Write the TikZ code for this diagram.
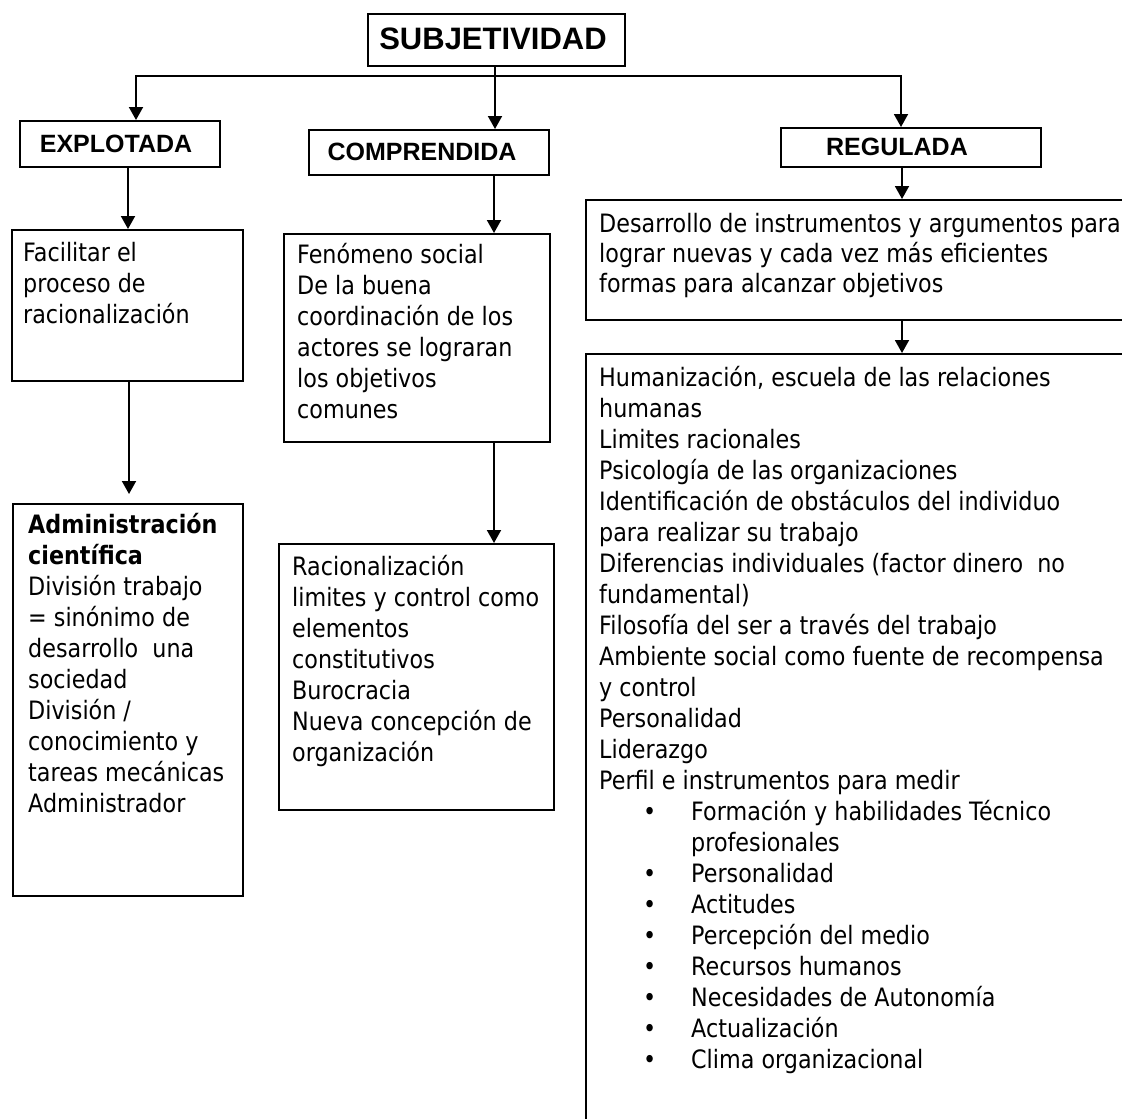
\documentclass[tikz,border=0pt]{standalone}
\usepackage{fontspec}
\setmainfont{DejaVu Sans}[FakeStretch=0.88]
\newfontfamily\hdrfont{Liberation Sans}
\usetikzlibrary{arrows.meta}
\begin{document}
\begin{tikzpicture}[x=1pt,y=-1pt,
  box/.style={draw, line width=1.6pt, inner sep=0pt, anchor=north west},
  hdr/.style={inner sep=0pt, font=\hdrfont\bfseries\fontsize{25}{29}\selectfont},
  txt/.style={anchor=base west, inner sep=0pt, font=\fontsize{25.3}{31}\selectfont},
  conn/.style={line width=1.9pt, -{Triangle[length=13pt,width=14pt]}}]
\useasboundingbox (0,0) rectangle (1122,1119);
\fill[white] (0,0) rectangle (1122,1119);
\clip (0,0) rectangle (1122,1119);

% header boxes
\node[box, minimum width=257pt, minimum height=52pt] (subj) at (367,13) {};
\node[hdr, font=\hdrfont\bfseries\fontsize{31}{35}\selectfont] (subjt) at (493,39) {SUBJETIVIDAD};
\node[box, minimum width=200pt, minimum height=46pt] (explotada) at (19,120) {};
\node[hdr] (explotadat) at (116,144) {EXPLOTADA};
\node[box, minimum width=240pt, minimum height=45pt] (comprendida) at (308,129) {};
\node[hdr] (comprendidat) at (422,152) {COMPRENDIDA};
\node[box, minimum width=260pt, minimum height=39pt] (regulada) at (780,127) {};
\node[hdr] (reguladat) at (897,147) {REGULADA};

% content boxes
\node[box, minimum width=231pt, minimum height=151pt] (facilitar) at (11,229) {};
\node[box, minimum width=230pt, minimum height=392pt] (admin) at (12,503) {};
\node[box, minimum width=266pt, minimum height=208pt] (fenomeno) at (283,233) {};
\node[box, minimum width=275pt, minimum height=266pt] (racional) at (278,543) {};
\node[box, minimum width=600pt, minimum height=120pt] (desarrollo) at (585,199) {};
\node[box, minimum width=600pt, minimum height=800pt] (humaniz) at (585,353) {};

% connectors
\coordinate (hl) at (0,76);
\coordinate (xl) at (136,0);
\coordinate (xr) at (901,0);
\coordinate (xc) at (495,0);
\coordinate (x1) at (128,0);
\coordinate (x2) at (129,0);
\coordinate (x3) at (494,0);
\coordinate (x4) at (902,0);
\coordinate (admintip) at (129,494);
\draw[conn] (subj.south -| xc) -- (comprendida.north -| xc);
\draw[conn] (xr |- hl) -- (xl |- hl) -- (explotada.north -| xl);
\draw[conn] (xl |- hl) -- (xr |- hl) -- (regulada.north -| xr);
\draw[conn] (explotada.south -| x1) -- (facilitar.north -| x1);
\draw[conn] (facilitar.south -| x2) -- (admintip);
\draw[conn] (comprendida.south -| x3) -- (fenomeno.north -| x3);
\draw[conn] (fenomeno.south -| x3) -- (racional.north -| x3);
\draw[conn] (regulada.south -| x4) -- (desarrollo.north -| x4);
\draw[conn] (desarrollo.south -| x4) -- (humaniz.north -| x4);

% texts
\foreach \t [count=\i from 0] in {Facilitar el, proceso de, racionalización}
  \node[txt] (fac\i) at (23,{261+31*\i}) {\t};
\foreach \t [count=\i from 0] in {Fenómeno social, De la buena, coordinación de los, actores se lograran, los objetivos, comunes}
  \node[txt] (fen\i) at (297,{263+31*\i}) {\t};
\foreach \t [count=\i from 0] in {\textbf{Administración}, \textbf{científica}, División trabajo, = sinónimo de, desarrollo\ \ una, sociedad, División /, conocimiento y, tareas mecánicas, Administrador}
  \node[txt] (adm\i) at (28,{533+31*\i}) {\t};
\foreach \t [count=\i from 0] in {Racionalización, limites y control como, elementos, constitutivos, Burocracia, Nueva concepción de, organización}
  \node[txt] (rac\i) at (292,{575+31*\i}) {\t};
\foreach \t [count=\i from 0] in {Desarrollo de instrumentos y argumentos para, lograr nuevas y cada vez más eficientes, formas para alcanzar objetivos}
  \node[txt] (des\i) at (599,{232+30*\i}) {\t};
\foreach \t [count=\i from 0] in {{Humanización, escuela de las relaciones}, humanas, Limites racionales, Psicología de las organizaciones, Identificación de obstáculos del individuo, para realizar su trabajo, Diferencias individuales (factor dinero\ \ no, fundamental), Filosofía del ser a través del trabajo, Ambiente social como fuente de recompensa, y control, Personalidad, Liderazgo, Perfil e instrumentos para medir}
  \node[txt] (hum\i) at (599,{386+31*\i}) {\t};
\foreach \t [count=\i from 14] in {Formación y habilidades Técnico, profesionales, Personalidad, Actitudes, Percepción del medio, Recursos humanos, Necesidades de Autonomía, Actualización, Clima organizacional}
  \node[txt] (hum\i) at (691,{386+31*\i}) {\t};
\foreach \i in {14,16,17,18,19,20,21,22}
  \node[txt] (bul\i) at (643,{386+31*\i}) {•};
\end{tikzpicture}
\end{document}
